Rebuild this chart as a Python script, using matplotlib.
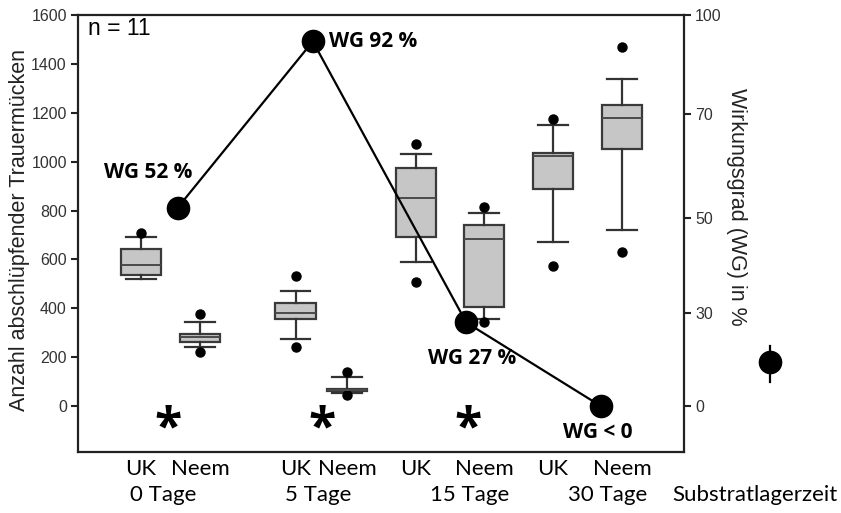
import matplotlib
matplotlib.use('Agg')
import matplotlib.pyplot as plt
import matplotlib.transforms as mtrans
import numpy as np

# --- data -------------------------------------------------------------
group_labels = ['0 Tage', '5 Tage', '15 Tage', '30 Tage']
box_labels = ['UK', 'Neem'] * 4

# five-number summaries per box (hatched fungus gnats)
box_whislo = [520, 241, 274, 55, 589, 356, 671, 720]
box_q1 = [536, 262, 356, 60, 692, 405, 888, 1052]
box_med = [577, 282, 380, 65, 851, 683, 1023, 1178]
box_q3 = [642, 295, 421, 70, 974, 741, 1035, 1232]
box_whishi = [691, 344, 471, 119, 1031, 790, 1150, 1338]
box_fliers = [[708], [376, 221], [532, 241], [139, 45],
              [1072, 507], [814, 344], [1174, 573], [1469, 630]]

# efficiency (Wirkungsgrad) in %
wg_values = [52, 92, 27, 0]
wg_labels = ['WG 52 %', 'WG 92 %', 'WG 27 %', 'WG < 0']

# right axis ticks and the left-axis height each one sits at
wg_ticks = [0, 30, 50, 70, 100]
wg_tick_heights = [0, 380, 769, 1195, 1600]

# --- layout -----------------------------------------------------------
box_pos = [1.07, 2.07, 3.69, 4.56, 5.73, 6.88, 8.05, 9.22]
group_pos = [1.44, 4.07, 6.64, 8.97]
wg_pos = [1.69, 3.98, 6.58, 8.86]
star_pos = [1.53, 4.14, 6.61]
wg_offsets = [(-21, 25), (12, 0), (4, -26), (-2, -19)]
wg_ha = ['center', 'left', 'center', 'center']

num_font = 'Liberation Sans'
cat_font = 'Lato'
bold_font = 'Open Sans'
ink = '#222222'


def wg_fwd(w):
    w = np.asarray(w, dtype=float)
    slope = wg_tick_heights[1] / wg_ticks[1]
    return np.where(w < 0, w * slope, np.interp(w, wg_ticks, wg_tick_heights))


def wg_inv(c):
    c = np.asarray(c, dtype=float)
    slope = wg_tick_heights[1] / wg_ticks[1]
    return np.where(c < 0, c / slope, np.interp(c, wg_tick_heights, wg_ticks))


fig = plt.figure(figsize=(8.41, 5.13), dpi=100)
ax = fig.add_axes([0.0927, 0.1189, 0.7206, 0.8519])

stats = []
for i in range(len(box_med)):
    stats.append(dict(med=box_med[i], q1=box_q1[i], q3=box_q3[i],
                      whislo=box_whislo[i], whishi=box_whishi[i],
                      fliers=box_fliers[i]))

ax.bxp(stats, positions=box_pos, widths=0.69, capwidths=0.5, patch_artist=True,
       boxprops=dict(facecolor='#c6c6c6', edgecolor='#3a3a3a', linewidth=1.6),
       medianprops=dict(color='#4a4a4a', linewidth=1.4),
       whiskerprops=dict(color='#333333', linewidth=1.6),
       capprops=dict(color='#333333', linewidth=1.6),
       flierprops=dict(marker='o', markerfacecolor='black', markeredgecolor='black',
                       markersize=6.5))

ax.set_xlim(0, 10.27)
ax.set_ylim(-188, 1600)
ax.set_yticks(range(0, 1601, 200))
ax.set_xticks(box_pos, box_labels)
ax.tick_params(axis='x', length=0, pad=5, labelsize=16)
ax.tick_params(axis='y', direction='out', length=5, width=1.5, color=ink,
               labelsize=11.5, labelcolor='#333333', pad=3)
for lab in ax.get_xticklabels():
    lab.set_fontfamily(cat_font)
for lab in ax.get_yticklabels():
    lab.set_fontfamily(num_font)

# significance stars
for x in star_pos:
    ax.text(x, -95, '*', ha='center', va='center', fontsize=36,
            fontweight='bold', family=bold_font, color='black')

# group labels under the UK / Neem row
trans = mtrans.blended_transform_factory(ax.transData, ax.transAxes)
for x, lab in zip(group_pos, group_labels):
    ax.text(x, -0.098, lab, transform=trans, ha='center', va='center',
            fontsize=16, family=cat_font)
ax.text(1.117, -0.098, 'Substratlagerzeit', transform=ax.transAxes,
        ha='center', va='center', fontsize=16, family=cat_font)

ax.text(0.0165, 0.968, 'n = 11', transform=ax.transAxes, ha='left', va='center',
        fontsize=16.5, family=num_font)

# right axis: efficiency
ax2 = ax.twinx()
ax2.set_yscale('function', functions=(wg_fwd, wg_inv))
ax2.set_ylim(float(wg_inv(-188)), 100)
ax2.set_yticks(wg_ticks)
ax2.tick_params(axis='y', direction='out', length=5, width=1.5, color=ink,
                labelsize=11.5, labelcolor='#333333', pad=3)
for lab in ax2.get_yticklabels():
    lab.set_fontfamily(num_font)
ax2.yaxis.set_minor_locator(matplotlib.ticker.NullLocator())

ax2.plot(wg_pos, wg_values, color='black', linewidth=1.6, marker='o',
         markersize=16, zorder=5)
for x, v, lab, off, ha in zip(wg_pos, wg_values, wg_labels, wg_offsets, wg_ha):
    ax2.annotate(lab, xy=(x, v), xytext=off, textcoords='offset points',
                 ha=ha, va='center', fontsize=15, fontweight='bold',
                 family=bold_font, color='black')

# legend symbol for the WG line
ax.plot([1.142, 1.142], [0.160, 0.2426], color='black', linewidth=1.6,
        transform=ax.transAxes, clip_on=False)
ax.plot([1.142], [0.206], marker='o', markersize=16, color='black',
        transform=ax.transAxes, clip_on=False)

# frame
for a in (ax, ax2):
    for s in a.spines.values():
        s.set_linewidth(1.6)
        s.set_color(ink)
ax.spines['right'].set_visible(False)
for s in ('left', 'top', 'bottom'):
    ax2.spines[s].set_visible(False)

fig.text(20 / 841, 1 - 230 / 513, 'Anzahl abschlüpfender Trauermücken', rotation=90,
         ha='center', va='center', fontsize=15.5, family=num_font, color='#222222')
fig.text(736 / 841, 1 - 207 / 513, 'Wirkungsgrad (WG) in %', rotation=270,
         ha='center', va='center', fontsize=15.5, family=num_font, color='#222222')

fig.savefig('out.png', dpi=100)
